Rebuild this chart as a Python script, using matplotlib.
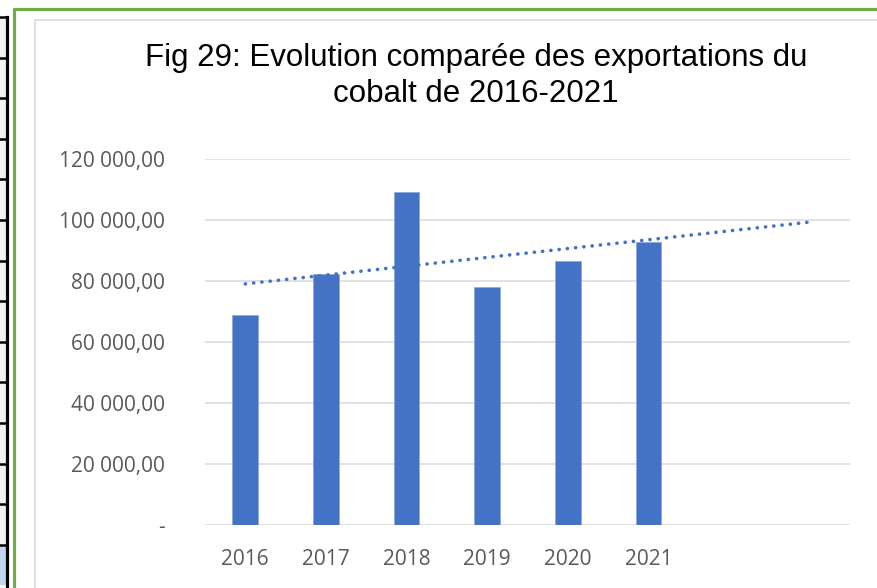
"""
Fig 29 - exportations de cobalt 2016-2021, barres + tendance lineaire.
"""
import numpy as np
import matplotlib
matplotlib.use("Agg")
import matplotlib.pyplot as plt
from matplotlib import font_manager
from matplotlib.patches import Rectangle
from matplotlib.lines import Line2D

# donnees
annees = ["2016", "2017", "2018", "2019", "2020", "2021"]
exportations = [68850, 82300, 109300, 77950, 86450, 92900]
n_cat = 8          # Excel laisse deux categories vides a droite
y_ticks = [0, 20000, 40000, 60000, 80000, 100000, 120000]
titre = "Fig 29: Evolution comparée des exportations du\ncobalt de 2016-2021"

bleu = "#4472C4"
gris_txt = "#595959"
gris_grille = "#D9D9D9"


def fmt(v):
    if v == 0:
        return "-"
    return "{:,.2f}".format(v).replace(",", " ").replace(".", ",")


W, H = 877, 588
fig = plt.figure(figsize=(W / 100, H / 100), dpi=100)

# bout de tableau a gauche et cadre vert de la capture
for k in range(14):
    y = 17 + 40.6 * k
    fig.add_artist(Rectangle((0, 1 - (y + 40.6) / H), 6 / W, 40.6 / H,
                             transform=fig.transFigure,
                             facecolor="#BDD7EE" if k == 13 else "#F2F2F2",
                             edgecolor="none"))
    fig.add_artist(Line2D([0, 7 / W], [1 - y / H] * 2, transform=fig.transFigure,
                          color="black", lw=1.8))
fig.add_artist(Line2D([6.5 / W] * 2, [0, 1 - 17 / H], transform=fig.transFigure,
                      color="black", lw=2.3))
fig.add_artist(Line2D([14.5 / W, 14.5 / W, 1], [0, 1 - 9 / H, 1 - 9 / H],
                      transform=fig.transFigure, color="#70AD47", lw=2.3))
fig.add_artist(Line2D([35 / W, 35 / W, 1], [0, 1 - 19.5 / H, 1 - 19.5 / H],
                      transform=fig.transFigure, color=gris_grille, lw=1.2))

ax = fig.add_axes([205 / W, 1 - 525 / H, 645 / W, 366 / H])

x = np.arange(len(annees))
ax.bar(x, exportations, width=0.32, color=bleu, edgecolor="#8FAADC",
       linewidth=0.6, zorder=3)

# tendance lineaire prolongee de deux periodes
coef = np.polyfit(x + 1, exportations, 1)
xt = np.arange(1, n_cat + 1)
ax.plot(xt - 1, np.polyval(coef, xt), color=bleu, lw=2.6,
        linestyle=(0, (0.05, 2.25)), dash_capstyle="round", zorder=4)

ax.set_xlim(-0.5, n_cat - 0.5)
ax.set_ylim(0, 120000)
ax.set_yticks(y_ticks)
ax.set_yticklabels([fmt(v) for v in y_ticks])
ax.set_xticks(x)
ax.set_xticklabels(annees)
ax.grid(axis="y", color=gris_grille, lw=1.1, zorder=0)
for s in ax.spines.values():
    s.set_visible(False)
ax.tick_params(length=0, labelsize=15, colors=gris_txt)
ax.tick_params(axis="y", pad=29)
ax.tick_params(axis="x", pad=17)
for lab in ax.get_xticklabels() + ax.get_yticklabels():
    lab.set_family(["Open Sans", "DejaVu Sans"])

# titre en police etroite si elle existe
noms = {f.name for f in font_manager.fontManager.ttflist}
if "Liberation Sans Narrow" in noms:
    fam, taille = "Liberation Sans Narrow", 26.5
else:
    fam, taille = "Liberation Sans", 22.5
fig.text(476 / W, 1 - 76 / H, titre, ha="center", va="center", fontsize=taille,
         family=[fam, "DejaVu Sans"], linespacing=1.3)

fig.savefig("out.png", dpi=100)
